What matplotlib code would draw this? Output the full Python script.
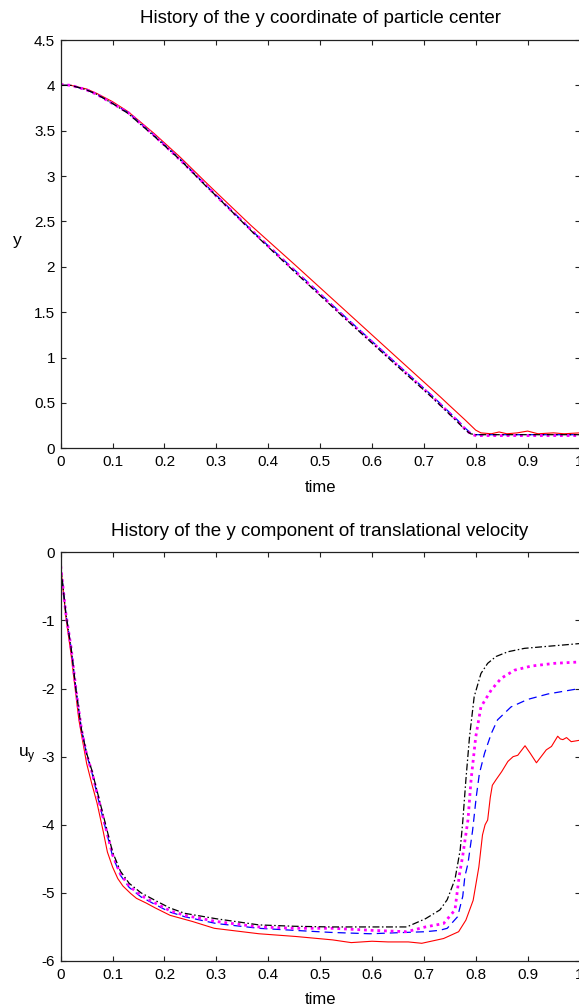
import matplotlib
matplotlib.use("Agg")
import matplotlib.pyplot as plt

plt.rcParams['font.family'] = ['Liberation Sans', 'DejaVu Sans']
plt.rcParams['lines.scale_dashes'] = False

# ---------------- data: top panel (y coordinate of particle center) ----------------
t_top_red = [0, 0.02, 0.05, 0.07, 0.10, 0.13, 0.18, 0.23, 0.28, 0.30, 0.366, 0.45, 0.55, 0.65,
             0.733, 0.746, 0.78, 0.80, 0.81, 0.83, 0.845, 0.86, 0.88, 0.90, 0.92, 0.95, 0.97, 1.0]
y_top_red = [4.0, 4.0, 3.96, 3.91, 3.82, 3.71, 3.47, 3.21, 2.93, 2.82, 2.46, 2.03, 1.51, 0.99,
             0.56, 0.49, 0.31, 0.20, 0.17, 0.16, 0.18, 0.16, 0.17, 0.19, 0.16, 0.17, 0.16, 0.17]

t_top_blk = [0, 0.02, 0.05, 0.07, 0.10, 0.13, 0.18, 0.23, 0.28, 0.30, 0.372, 0.45, 0.55, 0.65,
             0.714, 0.765, 0.78, 0.79, 0.80, 0.85, 0.90, 0.95, 1.0]
y_top_blk = [4.0, 4.0, 3.95, 3.90, 3.80, 3.69, 3.44, 3.18, 2.89, 2.78, 2.37, 1.95, 1.42, 0.90,
             0.57, 0.29, 0.20, 0.16, 0.15, 0.15, 0.15, 0.15, 0.15]

t_top_blu = [0, 0.02, 0.05, 0.07, 0.10, 0.13, 0.18, 0.23, 0.28, 0.30, 0.372, 0.45, 0.55, 0.65,
             0.714, 0.765, 0.78, 0.79, 0.80, 0.85, 0.90, 0.95, 1.0]
y_top_blu = [4.0, 4.0, 3.95, 3.90, 3.80, 3.70, 3.45, 3.19, 2.90, 2.79, 2.38, 1.97, 1.44, 0.92,
             0.59, 0.31, 0.22, 0.17, 0.15, 0.15, 0.15, 0.15, 0.15]

t_top_mag = [0, 0.02, 0.05, 0.07, 0.10, 0.13, 0.18, 0.23, 0.28, 0.30, 0.372, 0.45, 0.55, 0.65,
             0.714, 0.765, 0.78, 0.79, 0.80, 0.85, 0.90, 0.95, 1.0]
y_top_mag = [4.01, 4.0, 3.95, 3.90, 3.80, 3.70, 3.45, 3.18, 2.90, 2.78, 2.38, 1.96, 1.43, 0.91,
             0.58, 0.30, 0.21, 0.16, 0.14, 0.14, 0.14, 0.14, 0.14]

# ---------------- data: bottom panel (y component of velocity) ----------------
t_v_red = [0, 0.01, 0.02, 0.035, 0.05, 0.06, 0.07, 0.082, 0.09, 0.10, 0.11, 0.12, 0.135, 0.146,
           0.165, 0.182, 0.211, 0.254, 0.296, 0.382, 0.453, 0.524, 0.56, 0.60, 0.631, 0.67, 0.696,
           0.72, 0.738, 0.767, 0.781, 0.795, 0.806, 0.813, 0.818, 0.823, 0.828, 0.832, 0.839, 0.85,
           0.862, 0.872, 0.881, 0.895, 0.905, 0.917, 0.926, 0.936, 0.946, 0.958, 0.963, 0.968,
           0.975, 0.984, 1.0]
v_red = [-0.2, -0.95, -1.5, -2.46, -3.1, -3.4, -3.68, -4.1, -4.4, -4.62, -4.79, -4.9, -5.01, -5.08,
         -5.15, -5.22, -5.33, -5.42, -5.52, -5.60, -5.64, -5.69, -5.73, -5.71, -5.72, -5.72, -5.74,
         -5.70, -5.67, -5.57, -5.40, -5.11, -4.62, -4.15, -4.0, -3.93, -3.6, -3.42, -3.34, -3.22,
         -3.07, -3.0, -2.98, -2.84, -2.95, -3.09, -3.0, -2.90, -2.85, -2.70, -2.74, -2.75,
         -2.72, -2.78, -2.76]

t_v_blk = [0, 0.01, 0.02, 0.03, 0.04, 0.05, 0.06, 0.07, 0.08, 0.09, 0.10, 0.115, 0.132, 0.155,
           0.182, 0.21, 0.239, 0.30, 0.382, 0.45, 0.52, 0.596, 0.667, 0.703, 0.731, 0.745, 0.760,
           0.770, 0.775, 0.781, 0.788, 0.797, 0.810, 0.823, 0.839, 0.862, 0.894, 0.939, 0.97, 1.0]
v_blk = [-0.2, -0.9, -1.4, -2.05, -2.6, -2.95, -3.2, -3.5, -3.8, -4.1, -4.4, -4.68, -4.86, -5.0,
         -5.11, -5.22, -5.30, -5.38, -5.47, -5.49, -5.50, -5.50, -5.50, -5.38, -5.25, -5.1, -4.8,
         -4.37, -3.95, -3.34, -2.71, -2.12, -1.78, -1.63, -1.53, -1.46, -1.41, -1.38, -1.36, -1.34]

t_v_mag = [0, 0.01, 0.02, 0.03, 0.04, 0.05, 0.06, 0.07, 0.08, 0.09, 0.10, 0.115, 0.132, 0.155,
           0.182, 0.21, 0.239, 0.30, 0.382, 0.45, 0.524, 0.60, 0.667, 0.703, 0.738, 0.760, 0.768,
           0.775, 0.785, 0.791, 0.80, 0.81, 0.83, 0.849, 0.875, 0.907, 0.952, 1.0]
v_mag = [-0.2, -0.9, -1.4, -2.05, -2.6, -2.97, -3.22, -3.53, -3.84, -4.14, -4.44, -4.72, -4.90,
         -5.04, -5.15, -5.26, -5.33, -5.42, -5.50, -5.52, -5.52, -5.55, -5.57, -5.50, -5.45, -5.25,
         -4.76, -4.45, -3.93, -3.34, -2.71, -2.27, -2.02, -1.85, -1.73, -1.67, -1.63, -1.61]

t_v_blu = [0, 0.01, 0.02, 0.03, 0.04, 0.05, 0.06, 0.07, 0.08, 0.09, 0.10, 0.115, 0.132, 0.155,
           0.182, 0.21, 0.239, 0.30, 0.382, 0.45, 0.52, 0.596, 0.667, 0.703, 0.73, 0.745, 0.765,
           0.775, 0.779, 0.785, 0.794, 0.801, 0.807, 0.817, 0.830, 0.842, 0.868, 0.900, 0.939, 1.0]
v_blu = [-0.2, -0.9, -1.4, -2.05, -2.6, -2.97, -3.23, -3.55, -3.86, -4.16, -4.46, -4.74, -4.92,
         -5.06, -5.17, -5.28, -5.35, -5.45, -5.52, -5.55, -5.58, -5.60, -5.58, -5.57, -5.55, -5.52,
         -5.35, -5.05, -4.76, -4.57, -4.08, -3.59, -3.25, -2.95, -2.66, -2.46, -2.27, -2.16, -2.08, -2.0]

x_ticks = [0, 0.1, 0.2, 0.3, 0.4, 0.5, 0.6, 0.7, 0.8, 0.9, 1.0]
x_ticklabels = ['0', '0.1', '0.2', '0.3', '0.4', '0.5', '0.6', '0.7', '0.8', '0.9', '1']
y_ticks_top = [0, 0.5, 1, 1.5, 2, 2.5, 3, 3.5, 4, 4.5]
y_ticklabels_top = ['0', '0.5', '1', '1.5', '2', '2.5', '3', '3.5', '4', '4.5']
y_ticks_bot = [-6, -5, -4, -3, -2, -1, 0]
y_ticklabels_bot = ['-6', '-5', '-4', '-3', '-2', '-1', '0']

title_top = 'History of the y coordinate of particle center'
title_bot = 'History of the y component of translational velocity'

# ---------------- figure ----------------
W, H = 579, 1007
fig = plt.figure(figsize=(W / 100, H / 100), dpi=100)
left = 60.7 / W
width = (579.5 - 60.7) / W
ax1 = fig.add_axes([left, 1 - 448.3 / H, width, 408.3 / H])
ax2 = fig.add_axes([left, 1 - 961.0 / H, width, 408.7 / H])

styles = dict(
    red=dict(color='#ff0000', lw=0.8, linestyle='-'),
    blu=dict(color='#0000ff', lw=0.9, linestyle=(0, (5.8, 3.6))),
    mag=dict(color='#ff00ff', lw=2.0, linestyle=(0, (2.0, 2.8)), dash_capstyle='butt'),
    blk=dict(color='#000000', lw=0.9, linestyle=(0, (5.0, 1.8, 1.1, 1.8))),
)

ax1.plot(t_top_red, y_top_red, **styles['red'])
ax1.plot(t_top_blu, y_top_blu, **styles['blu'])
ax1.plot(t_top_mag, y_top_mag, **styles['mag'])
ax1.plot(t_top_blk, y_top_blk, **styles['blk'])

ax2.plot(t_v_red, v_red, **styles['red'])
ax2.plot(t_v_blu, v_blu, **styles['blu'])
ax2.plot(t_v_mag, v_mag, **styles['mag'])
ax2.plot(t_v_blk, v_blk, **styles['blk'])

for ax in (ax1, ax2):
    ax.set_xlim(0, 1)
    ax.set_xticks(x_ticks)
    ax.set_xticklabels(x_ticklabels)
    ax.tick_params(direction='in', top=True, right=True, length=3.8, width=0.8,
                   labelsize=11, color='#222222')
    ax.tick_params(axis='x', pad=5.0)
    ax.tick_params(axis='y', pad=4.0)
    for s in ax.spines.values():
        s.set_linewidth(0.9)
        s.set_color('#222222')
    ax.set_xlabel('time', fontsize=12, labelpad=7.5)

ax1.set_ylim(0, 4.5)
ax1.set_yticks(y_ticks_top)
ax1.set_yticklabels(y_ticklabels_top)
ax2.set_ylim(-6, 0)
ax2.set_yticks(y_ticks_bot)
ax2.set_yticklabels(y_ticklabels_bot)

ax1.set_title(title_top, fontsize=13.5, pad=12)
ax2.set_title(title_bot, fontsize=13.5, pad=12)

ax1.set_ylabel('y', fontsize=12.5, rotation=0, ha='center', va='center')
ax1.yaxis.set_label_coords(-0.084, 0.51)
ax2.set_ylabel(r'u$_\mathregular{y}$', fontsize=12.5, rotation=0, ha='center', va='center')
ax2.yaxis.set_label_coords(-0.066, 0.505)

fig.savefig('out.png', dpi=100)
